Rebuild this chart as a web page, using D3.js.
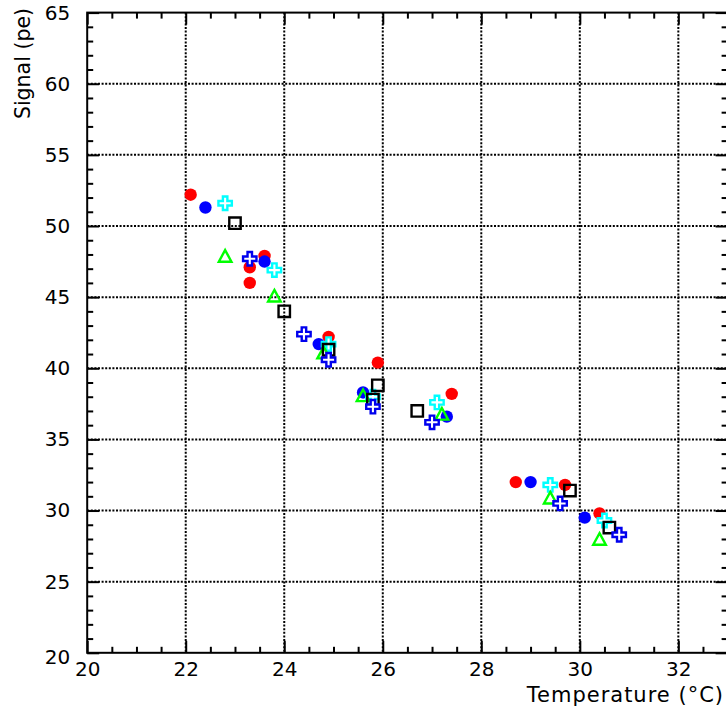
<!DOCTYPE html>
<html>
<head>
<meta charset="utf-8">
<script src="https://cdn.jsdelivr.net/npm/d3@7"></script>
<style>
  html, body { margin: 0; padding: 0; background: #fff; }
  svg { display: block; }
  text { font-family: "DejaVu Sans", sans-serif; fill: #000; }
</style>
</head>
<body>
<svg id="chart" width="726" height="711"></svg>
<script>
// Signal (pe) versus temperature, one array pair per measurement series
const redTemp      = [22.1, 23.3, 23.3, 23.6, 24.9, 25.9, 27.4, 28.7, 29.7, 30.4];
const redSignal    = [52.2, 47.1, 46.0, 47.9, 42.2, 40.4, 38.2, 32.0, 31.8, 29.8];

const blueTemp     = [22.4, 23.6, 24.7, 25.6, 27.3, 29.0, 30.1];
const blueSignal   = [51.3, 47.5, 41.7, 38.3, 36.6, 32.0, 29.5];

const cyanTemp     = [22.8, 23.8, 24.9, 25.8, 27.1, 29.4, 30.5];
const cyanSignal   = [51.6, 46.9, 41.7, 38.0, 37.6, 31.8, 29.3];

const greenTemp    = [22.8, 23.8, 24.8, 25.6, 27.2, 29.4, 30.4];
const greenSignal  = [47.9, 45.1, 41.1, 38.1, 36.8, 30.9, 28.0];

const blackTemp    = [23.0, 24.0, 24.9, 25.9, 25.8, 26.7, 29.8, 30.6];
const blackSignal  = [50.2, 44.0, 41.3, 38.8, 37.8, 37.0, 31.4, 28.8];

const crossTemp    = [23.3, 24.4, 24.9, 25.8, 27.0, 29.6, 30.8];
const crossSignal  = [47.7, 42.4, 40.6, 37.3, 36.2, 30.5, 28.3];

const xMajorTicks = [20, 22, 24, 26, 28, 30, 32];
const yMajorTicks = [20, 25, 30, 35, 40, 45, 50, 55, 60, 65];
const xGridTicks  = [22, 24, 26, 28, 30, 32];
const yGridTicks  = [25, 30, 35, 40, 45, 50, 55, 60];
const xTitle = "Temperature (°C)";
const yTitle = "Signal (pe)";

const svg = d3.select("#chart");
const padL = 87.2, padR = 727.6, padT = 12.6, padB = 652.8;

const x = d3.scaleLinear().domain([20, 33]).range([padL, padR]);
const y = d3.scaleLinear().domain([20, 65]).range([padB, padT]);

const xMinor = d3.range(20, 33.01, 0.5).filter(v => !xMajorTicks.includes(v));
const yMinor = d3.range(20, 65.01, 1).filter(v => v % 5 !== 0);

// dotted grid
const grid = svg.append("g")
  .attr("stroke", "#000").attr("stroke-width", 2).attr("stroke-dasharray", "2,1.6");
grid.selectAll(".gx").data(xGridTicks).join("line")
  .attr("x1", d => x(d)).attr("x2", d => x(d)).attr("y1", padT).attr("y2", padB);
grid.selectAll(".gy").data(yGridTicks).join("line")
  .attr("y1", d => y(d)).attr("y2", d => y(d)).attr("x1", padL).attr("x2", padR);

// inward ticks on all four sides
function styleAxis(g) {
  g.select(".domain").remove();
  g.selectAll(".tick line").attr("stroke", "#000").attr("stroke-width", 2);
  g.selectAll("text").style("font-size", "20px").style("font-family", "DejaVu Sans, sans-serif");
}
svg.append("g").attr("transform", `translate(0,${padB})`)
  .call(d3.axisBottom(x).tickValues(xMajorTicks).tickFormat(d3.format("d"))
        .tickSizeInner(-12).tickSizeOuter(0).tickPadding(9))
  .call(styleAxis);
svg.append("g").attr("transform", `translate(0,${padB})`)
  .call(d3.axisBottom(x).tickValues(xMinor).tickFormat("").tickSizeInner(-6).tickSizeOuter(0))
  .call(styleAxis);
svg.append("g").attr("transform", `translate(0,${padT})`)
  .call(d3.axisTop(x).tickValues(xMajorTicks).tickFormat("").tickSizeInner(-12).tickSizeOuter(0))
  .call(styleAxis);
svg.append("g").attr("transform", `translate(0,${padT})`)
  .call(d3.axisTop(x).tickValues(xMinor).tickFormat("").tickSizeInner(-6).tickSizeOuter(0))
  .call(styleAxis);
const yAxisG = svg.append("g").attr("transform", `translate(${padL},0)`)
  .call(d3.axisLeft(y).tickValues(yMajorTicks).tickFormat(d3.format("d"))
        .tickSizeInner(-12).tickSizeOuter(0).tickPadding(17))
  .call(styleAxis);
yAxisG.selectAll(".tick text").filter(d => d === 20).attr("dy", "0.55em");
svg.append("g").attr("transform", `translate(${padL},0)`)
  .call(d3.axisLeft(y).tickValues(yMinor).tickFormat("").tickSizeInner(-6).tickSizeOuter(0))
  .call(styleAxis);
svg.append("g").attr("transform", `translate(${padR},0)`)
  .call(d3.axisRight(y).tickValues(yMajorTicks).tickFormat("").tickSizeInner(-12).tickSizeOuter(0))
  .call(styleAxis);
svg.append("g").attr("transform", `translate(${padR},0)`)
  .call(d3.axisRight(y).tickValues(yMinor).tickFormat("").tickSizeInner(-6).tickSizeOuter(0))
  .call(styleAxis);

// frame
svg.append("rect")
  .attr("x", padL).attr("y", padT).attr("width", padR - padL).attr("height", padB - padT)
  .attr("fill", "none").attr("stroke", "#000").attr("stroke-width", 2);

// axis titles
svg.append("text")
  .attr("x", 724).attr("y", 702)
  .attr("text-anchor", "end").style("font-size", "21px").style("letter-spacing", "1px")
  .text(xTitle);
svg.append("text")
  .attr("transform", `translate(30,8) rotate(-90)`)
  .attr("text-anchor", "end").style("font-size", "20.5px")
  .text(yTitle);

// markers
const pts = (tx, sy) => tx.map((t, i) => ({ t, s: sy[i] }));
const marks = svg.append("g");

function circles(data, color) {
  marks.append("g").selectAll("circle").data(data).join("circle")
    .attr("cx", d => x(d.t)).attr("cy", d => y(d.s)).attr("r", 6.2)
    .attr("fill", color);
}
function symbols(data, type, size, color, sw) {
  marks.append("g").selectAll("path").data(data).join("path")
    .attr("transform", d => `translate(${x(d.t)},${y(d.s)})`)
    .attr("d", d3.symbol().type(type).size(size)())
    .attr("fill", "none").attr("stroke", color).attr("stroke-width", sw);
}
function crosses(data, color) {
  marks.append("g").selectAll("path").data(data).join("path")
    .attr("transform", d => `translate(${x(d.t)},${y(d.s)})`)
    .attr("d", d3.symbol().type(d3.symbolCross).size(100)())
    .attr("fill", "#fff").attr("stroke", color).attr("stroke-width", 2.4)
    .attr("stroke-linejoin", "miter");
}
// open triangle, centred on its bounding box
const triangle = {
  draw(ctx) {
    ctx.moveTo(0, -5.8); ctx.lineTo(6.3, 5.8); ctx.lineTo(-6.3, 5.8); ctx.closePath();
  }
};

circles(pts(redTemp, redSignal), "#ff0000");
circles(pts(blueTemp, blueSignal), "#0000ff");
crosses(pts(cyanTemp, cyanSignal), "#00ffff");
symbols(pts(greenTemp, greenSignal), triangle, 1, "#00ff00", 2.4);
symbols(pts(blackTemp, blackSignal), d3.symbolSquare, 130, "#000", 2.4);
crosses(pts(crossTemp, crossSignal), "#0000ee");
</script>
</body>
</html>
